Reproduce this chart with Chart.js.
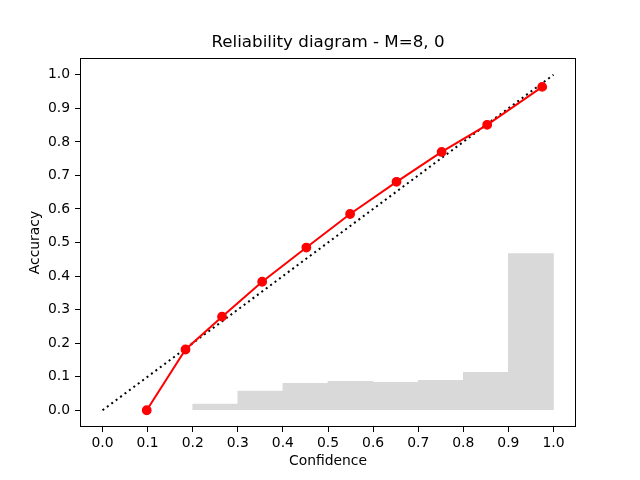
<!DOCTYPE html>
<html>
<head>
<meta charset="utf-8">
<script src="https://cdn.jsdelivr.net/npm/chart.js@4/dist/chart.umd.min.js"></script>
<style>
  html, body { margin: 0; padding: 0; background: #ffffff; }
  #wrap { width: 640px; height: 480px; }
</style>
</head>
<body>
<div id="wrap"><canvas id="c" width="640" height="480"></canvas></div>
<script>
// ---- data ----
const binCenters = [0.25, 0.35, 0.45, 0.55, 0.65, 0.75, 0.85, 0.95];
const binFractions = [0.018, 0.057, 0.080, 0.086, 0.083, 0.089, 0.113, 0.467];
const confidence = [0.098, 0.184, 0.265, 0.354, 0.452, 0.549, 0.652, 0.752, 0.853, 0.975];
const accuracy = [0.000, 0.181, 0.279, 0.383, 0.485, 0.585, 0.681, 0.770, 0.851, 0.964];
const diagX = [0.0, 1.0];
const diagY = [0.0, 1.0];
const xTicks = [0.0, 0.1, 0.2, 0.3, 0.4, 0.5, 0.6, 0.7, 0.8, 0.9, 1.0];
const yTicks = [0.0, 0.1, 0.2, 0.3, 0.4, 0.5, 0.6, 0.7, 0.8, 0.9, 1.0];
const titleText = 'Reliability diagram - M=8, 0';
const xLabel = 'Confidence';
const yLabel = 'Accuracy';

const FONT = 'DejaVu Sans';
const frame = {
  id: 'frame',
  afterDatasetsDraw(chart) {
    const a = chart.chartArea, ctx = chart.ctx;
    ctx.save();
    ctx.strokeStyle = '#000';
    ctx.lineWidth = 1;
    ctx.strokeRect(Math.round(a.left) + 0.5, Math.round(a.top) + 0.5,
                   Math.round(a.right - a.left) - 1, Math.round(a.bottom - a.top) - 1);
    ctx.restore();
  }
};

new Chart(document.getElementById('c'), {
  type: 'bar',
  data: {
    datasets: [
      {
        type: 'line',
        data: confidence.map((x, i) => ({ x: x, y: accuracy[i] })),
        borderColor: '#ff0000',
        backgroundColor: '#ff0000',
        borderWidth: 2,
        pointRadius: 4.2,
        pointHoverRadius: 4.2,
        pointBorderWidth: 1.4,
        pointBorderColor: '#ff0000',
        tension: 0,
        fill: false,
        order: 1
      },
      {
        type: 'line',
        data: diagX.map((x, i) => ({ x: x, y: diagY[i] })),
        borderColor: '#000000',
        borderWidth: 2,
        borderDash: [2, 3.5],
        pointRadius: 0,
        fill: false,
        order: 2
      },
      {
        type: 'bar',
        data: binCenters.map((x, i) => ({ x: x, y: binFractions[i] })),
        backgroundColor: '#d9d9d9',
        borderWidth: 0,
        categoryPercentage: 1.0,
        barPercentage: 1.0,
        grouped: false,
        order: 3
      }
    ]
  },
  options: {
    responsive: false,
    animation: false,
    devicePixelRatio: 1,
    layout: { padding: { left: 0, right: 64, top: 0, bottom: 0 } },
    plugins: {
      legend: { display: false },
      tooltip: { enabled: false },
      title: {
        display: true,
        text: titleText,
        fullSize: false,
        color: '#000',
        font: { family: FONT, size: 16.7, weight: 'normal', lineHeight: 1.2 },
        padding: { top: 33, bottom: 5 }
      }
    },
    scales: {
      x: {
        type: 'linear',
        min: -0.05,
        max: 1.05,
        offset: false,
        afterBuildTicks: (s) => { s.ticks = xTicks.map(v => ({ value: v })); },
        afterFit: (s) => { s.height = 53; },
        grid: { display: true, offset: false, drawOnChartArea: false, drawTicks: true, tickLength: 5, color: '#000', tickWidth: 1 },
        border: { display: false },
        ticks: {
          color: '#000',
          padding: 3,
          maxRotation: 0,
          autoSkip: false,
          font: { family: FONT, size: 13.9 },
          callback: (v) => Number(v).toFixed(1)
        },
        title: {
          display: true,
          text: xLabel,
          color: '#000',
          font: { family: FONT, size: 13.9 },
          padding: { top: 0, bottom: 10 }
        }
      },
      y: {
        type: 'linear',
        min: -0.05,
        max: 1.05,
        afterBuildTicks: (s) => { s.ticks = yTicks.map(v => ({ value: v })); },
        afterFit: (s) => { s.width = 80; },
        grid: { display: true, offset: false, drawOnChartArea: false, drawTicks: true, tickLength: 5, color: '#000', tickWidth: 1 },
        border: { display: false },
        ticks: {
          color: '#000',
          padding: 5,
          autoSkip: false,
          font: { family: FONT, size: 13.9 },
          callback: (v) => Number(v).toFixed(1)
        },
        title: {
          display: true,
          text: yLabel,
          color: '#000',
          font: { family: FONT, size: 13.9 },
          padding: { top: 27, bottom: 0 }
        }
      }
    }
  },
  plugins: [frame]
});
</script>
</body>
</html>
